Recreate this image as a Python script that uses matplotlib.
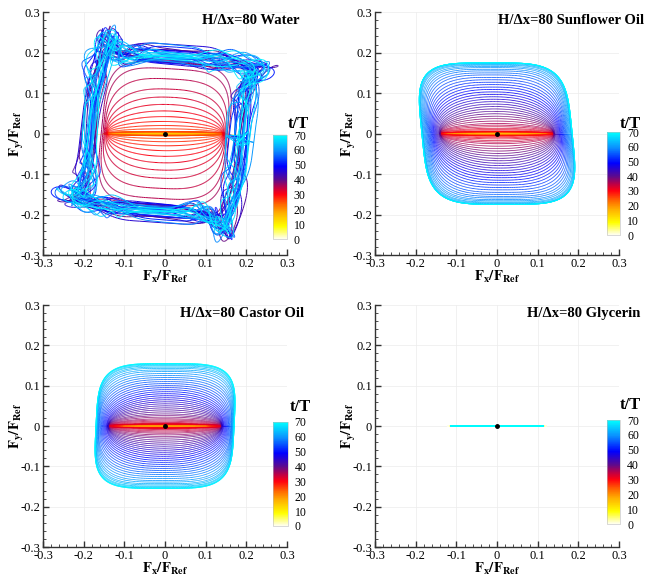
import numpy as np
import matplotlib
matplotlib.use('Agg')
import matplotlib.pyplot as plt
from matplotlib.colors import LinearSegmentedColormap, Normalize
from matplotlib.collections import LineCollection
from matplotlib.ticker import MultipleLocator, FuncFormatter

plt.rcParams['font.family'] = ['Liberation Serif', 'DejaVu Serif']
plt.rcParams['mathtext.fontset'] = 'stix'
plt.rcParams['axes.unicode_minus'] = False

# one value per forcing cycle, t/T = 0 .. 69
fluids = ['Water', 'Sunflower Oil', 'Castor Oil', 'Glycerin']

water_ax = ([0.21, 0.19, 0.17] + [0.15] * 23 +
            [0.142, 0.142, 0.142, 0.142, 0.143, 0.144, 0.145, 0.147, 0.149, 0.152, 0.156] +
            [0.17, 0.18, 0.19, 0.18, 0.2, 0.19, 0.17, 0.18, 0.2, 0.19, 0.18, 0.17, 0.19, 0.2, 0.18,
             0.19, 0.17, 0.18, 0.2, 0.19, 0.18, 0.19, 0.17, 0.2, 0.18, 0.19, 0.18, 0.17, 0.19, 0.2,
             0.18, 0.19, 0.18])
water_ay = ([0.0] * 12 +
            [0.001, 0.001, 0.002, 0.002, 0.003, 0.003, 0.003, 0.004, 0.004, 0.004, 0.005, 0.005, 0.005, 0.005] +
            [0.012, 0.02, 0.03, 0.042, 0.056, 0.072, 0.09, 0.11, 0.135, 0.16, 0.175] +
            [0.18, 0.19, 0.2, 0.185, 0.195, 0.2, 0.18, 0.19, 0.21, 0.185, 0.19, 0.2, 0.18, 0.195, 0.19,
             0.205, 0.18, 0.19, 0.2, 0.185, 0.19, 0.18, 0.2, 0.195, 0.185, 0.19, 0.2, 0.18, 0.19, 0.205,
             0.185, 0.19, 0.2])
water_over = ([0.0] * 37 +
              [0.2, 0.28, 0.33, 0.22, 0.38, 0.27, 0.32, 0.42, 0.25, 0.22, 0.37, 0.3, 0.25, 0.4, 0.2,
               0.3, 0.37, 0.25, 0.32, 0.22, 0.42, 0.27, 0.37, 0.3, 0.25, 0.2, 0.37, 0.32, 0.42, 0.25,
               0.3, 0.37, 0.27])
water_wig = ([0.0] * 37 +
             [0.006, 0.008, 0.011, 0.007, 0.014, 0.009, 0.012, 0.016, 0.008, 0.011, 0.015, 0.009,
              0.013, 0.012, 0.017, 0.008, 0.014, 0.011, 0.017, 0.009, 0.015, 0.012, 0.014, 0.017,
              0.011, 0.015, 0.012, 0.017, 0.014, 0.011, 0.017, 0.014, 0.015])
water_phase = ([0.0] * 37 +
               [0.3, 2.1, 4.4, 1.2, 5.6, 3.3, 0.8, 2.9, 4.9, 1.7, 6.0, 3.8, 0.5, 2.4, 5.1, 1.0, 3.6,
                5.8, 2.2, 4.1, 0.1, 3.0, 5.3, 1.5, 4.6, 2.7, 0.9, 5.5, 3.4, 1.9, 4.0, 0.6, 2.6])

sun_ax = ([0.18, 0.16, 0.15] + [0.14] * 27 + [0.14] * 10 +
          [0.141, 0.142, 0.143, 0.145, 0.147, 0.149, 0.151, 0.153, 0.155, 0.157,
           0.159, 0.161, 0.163, 0.165, 0.167, 0.169, 0.171, 0.173, 0.175, 0.177,
           0.179, 0.181, 0.182, 0.183, 0.184, 0.185, 0.185, 0.185, 0.185, 0.185])
sun_ay = ([0.0] * 14 +
          [0.001, 0.001, 0.002, 0.002, 0.002, 0.003, 0.003, 0.003, 0.004, 0.004, 0.004, 0.004,
           0.005, 0.005, 0.005, 0.005] +
          [0.007, 0.01, 0.013, 0.017, 0.021, 0.025, 0.031, 0.037, 0.043, 0.049,
           0.055, 0.061, 0.067, 0.073, 0.079, 0.085, 0.091, 0.097, 0.103, 0.109,
           0.115, 0.121, 0.127, 0.133, 0.139, 0.145, 0.150, 0.155, 0.159, 0.163,
           0.166, 0.169, 0.171, 0.173, 0.174, 0.175, 0.175, 0.175, 0.175, 0.175])

cas_ax = ([0.17, 0.155, 0.145] + [0.14] * 29 + [0.14] * 12 +
          [0.141, 0.142, 0.143, 0.144, 0.146, 0.148, 0.15, 0.152, 0.154, 0.156,
           0.158, 0.16, 0.162, 0.163, 0.164, 0.165, 0.166, 0.167,
           0.168, 0.168, 0.169, 0.169, 0.17, 0.17, 0.17, 0.17])
cas_ay = ([0.0] * 14 +
          [0.001, 0.001, 0.002, 0.002, 0.002, 0.003, 0.003, 0.003, 0.004, 0.004, 0.004, 0.004,
           0.005, 0.005, 0.005, 0.005, 0.005, 0.005] +
          [0.007, 0.009, 0.012, 0.015, 0.018, 0.022, 0.026, 0.03, 0.035, 0.04,
           0.045, 0.05, 0.055, 0.06, 0.065, 0.07, 0.075, 0.08, 0.085, 0.09,
           0.095, 0.1, 0.105, 0.11, 0.115, 0.12, 0.125, 0.13, 0.135, 0.139,
           0.143, 0.146, 0.149, 0.151, 0.153, 0.154, 0.155, 0.155])

gly_ax = [0.122, 0.119, 0.117] + [0.115] * 67
gly_ay = [0.0] * 70

zeros = [0.0] * 70
amp_x = [water_ax, sun_ax, cas_ax, gly_ax]
amp_y = [water_ay, sun_ay, cas_ay, gly_ay]
overshoot = [water_over, zeros, zeros, zeros]
wiggle = [water_wig, zeros, zeros, zeros]
phase = [water_phase, zeros, zeros, zeros]

# loop shape / layout settings per panel
nmax = [6.0, 4.2, 4.2, 2.0]
shear = [0.1, -0.1, 0.05, 0.0]
yshear = [-0.08, 0.0, 0.0, 0.0]
lws = [0.7, 0.55, 0.55, 1.3]
ax_pos = [[0.0648, 0.561, 0.3675, 0.418], [0.5648, 0.561, 0.3675, 0.418],
          [0.0648, 0.0585, 0.3675, 0.4165], [0.5648, 0.0585, 0.3675, 0.4165]]
cb_pos = [[0.411, 0.5886, 0.021, 0.179], [0.914, 0.5955, 0.020, 0.177],
          [0.411, 0.0947, 0.022, 0.179], [0.914, 0.098, 0.020, 0.179]]
title_x = [1.053, 1.102, 1.07, 1.086]
cbt_xy = [(298, 124), (630, 124), (300, 407), (630, 405)]

cmap = LinearSegmentedColormap.from_list('tT', [
    (0.0, '#fffff2'), (0.12, '#ffff00'), (0.25, '#ffae00'), (0.33, '#ff6a00'),
    (0.43, '#ff0010'), (0.5, '#b8004a'), (0.57, '#5e0a8c'), (0.7, '#0000ff'),
    (0.85, '#0a90ff'), (1.0, '#00ffff')])
norm = Normalize(0, 70)


def loop(theta, a, b, n, over, k, ky, w, ph):
    c = np.cos(theta)
    s = -np.sin(theta)
    p = 2.0 / n
    x = np.sign(c) * np.abs(c) ** p
    y = np.sign(s) * np.abs(s) ** p
    if over > 0:
        px = np.mod(theta - np.pi / 2, np.pi)
        py = np.mod(theta, np.pi)
        x = x + over * np.sign(c) * np.exp(-((px - 0.7) / 0.3) ** 2)
        y = y + over * np.sign(s) * np.exp(-((py - 0.7) / 0.3) ** 2)
    X0 = a * x
    Y0 = b * y
    X = X0 + k * Y0
    Y = Y0 + ky * X0
    if w > 0:
        X = X + w * (np.sin(6 * theta + ph) + 0.5 * np.sin(11 * theta + 2 * ph))
        Y = Y + w * (np.cos(7 * theta + ph) + 0.5 * np.sin(13 * theta + 3 * ph))
    return X, Y


fig = plt.figure(figsize=(6.64, 5.81), dpi=100)
fmt = FuncFormatter(lambda v, p: '0' if abs(v) < 1e-9 else ('%g' % round(v, 2)))
theta = np.linspace(0, 2 * np.pi, 361)

for i, name in enumerate(fluids):
    ax = fig.add_axes(ax_pos[i])
    bmax = max(max(amp_y[i]), 1e-6)
    xs, ys, ts = [], [], []
    for k in range(70):
        a, b = amp_x[i][k], amp_y[i][k]
        n = 2.0 + (nmax[i] - 2.0) * min(1.0, b / bmax) ** 3
        x, y = loop(theta, a, b, n, overshoot[i][k], shear[i], yshear[i] * b / bmax,
                    wiggle[i][k], phase[i][k])
        xs.append(x)
        ys.append(y)
        ts.append(k + theta / (2 * np.pi))
    xs = np.concatenate(xs)
    ys = np.concatenate(ys)
    ts = np.concatenate(ts)
    pts = np.column_stack([xs, ys]).reshape(-1, 1, 2)
    segs = np.concatenate([pts[:-1], pts[1:]], axis=1)
    lc = LineCollection(segs, cmap=cmap, norm=norm, linewidths=lws[i])
    lc.set_array(0.5 * (ts[:-1] + ts[1:]))
    ax.add_collection(lc)
    ax.plot(0, 0, 'o', color='k', ms=2.5, zorder=5)

    ax.set_xlim(-0.3, 0.3)
    ax.set_ylim(-0.3, 0.3)
    for sp in ['top', 'right']:
        ax.spines[sp].set_visible(False)
    for sp in ['left', 'bottom']:
        ax.spines[sp].set_linewidth(1.0)
        ax.spines[sp].set_color('#333333')
    ax.xaxis.set_major_locator(MultipleLocator(0.1))
    ax.yaxis.set_major_locator(MultipleLocator(0.1))
    ax.xaxis.set_minor_locator(MultipleLocator(0.02))
    ax.yaxis.set_minor_locator(MultipleLocator(0.02))
    ax.xaxis.set_major_formatter(fmt)
    ax.yaxis.set_major_formatter(fmt)
    ax.tick_params(which='both', direction='in', labelsize=9, color='#333333')
    ax.tick_params(which='major', length=4, width=1.0, pad=2)
    ax.tick_params(which='minor', length=2, width=0.6)
    ax.grid(True, which='major', color='#ececec', lw=0.5)
    ax.set_axisbelow(True)
    ax.set_xlabel(r'$\mathbf{F_x/F_{Ref}}$', fontsize=10.5)
    ax.set_ylabel(r'$\mathbf{F_y/F_{Ref}}$', fontsize=10.5)
    ax.xaxis.set_label_coords(0.5, -0.058)
    ax.yaxis.set_label_coords(-0.07, 0.5)
    ax.text(title_x[i], 0.967, 'H/\u0394x=80 ' + name, transform=ax.transAxes,
            ha='right', va='center', fontsize=10.5, fontweight='bold')

    cax = fig.add_axes(cb_pos[i])
    sm = plt.cm.ScalarMappable(cmap=cmap, norm=norm)
    cb = fig.colorbar(sm, cax=cax, ticks=np.arange(0, 71, 10))
    cb.outline.set_linewidth(0.4)
    cb.outline.set_edgecolor('#bbbbbb')
    cax.tick_params(length=0, labelsize=8.5, pad=5)
    fig.text(cbt_xy[i][0] / 664, 1 - cbt_xy[i][1] / 581, 't/T', ha='center', va='center',
             fontsize=12, fontweight='bold')

fig.savefig('out.png', dpi=100)
